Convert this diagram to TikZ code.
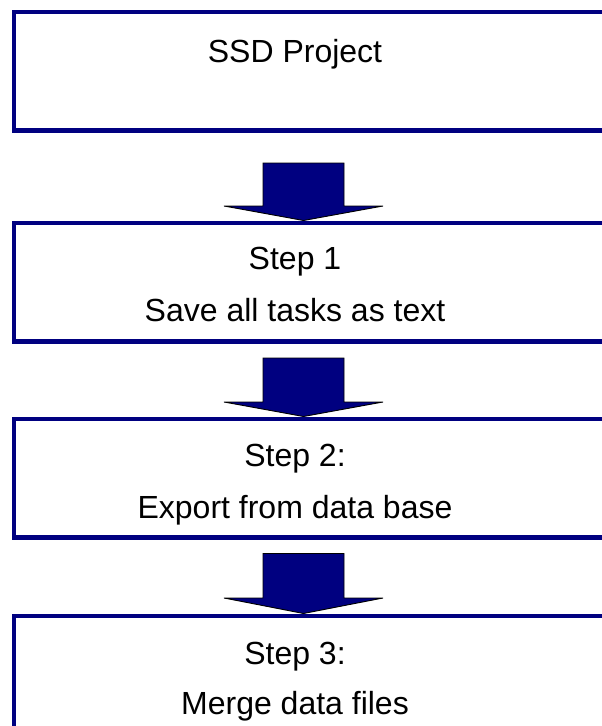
\documentclass[tikz,border=0pt]{standalone}
\usepackage{fontspec}
\setmainfont{Liberation Sans}
\definecolor{navy}{RGB}{0,0,128}
\tikzset{
  box/.style={draw=navy, line width=4.5pt, fill=white, minimum width=606pt, minimum height=118.5pt, inner sep=0pt, outer sep=0pt},
  lbl/.style={anchor=base, inner sep=0pt, font=\fontsize{32pt}{38pt}\selectfont},
  blockarrow/.style={fill=navy, draw=black, line width=0.9pt, line join=miter}
}
\newcommand{\blkarrow}[3]{% shaft top, head base, tip
  \path[blockarrow] (263,#1) -- (344,#1) -- (344,#2) -- (383,#2) -- (303.5,#3) -- (224,#2) -- (263,#2) -- cycle;
}
\begin{document}
\begin{tikzpicture}[x=1pt,y=-1pt]
\useasboundingbox (0,0) rectangle (602,726);
\clip (0,0) rectangle (602,726);
\fill[white] (0,0) rectangle (602,726);
\node[box] (b1) at (317,71.25) {};
\node[box] (b2) at (317,282.25) {};
\node[box] (b3) at (317,478.25) {};
\node[box] (b4) at (317,675.25) {};
\blkarrow{163}{206}{220.5}
\blkarrow{358}{402}{416.5}
\blkarrow{553.5}{598}{613.5}
\node[lbl] (t1) at (295,62) {SSD Project};
\node[lbl] (t2a) at (295,269) {Step 1};
\node[lbl] (t2b) at (295,321) {Save all tasks as text};
\node[lbl] (t3a) at (295,466) {Step 2:};
\node[lbl] (t3b) at (295,518) {Export from data base};
\node[lbl] (t4a) at (295,664) {Step 3:};
\node[lbl] (t4b) at (295,714) {Merge data files};
\end{tikzpicture}
\end{document}
